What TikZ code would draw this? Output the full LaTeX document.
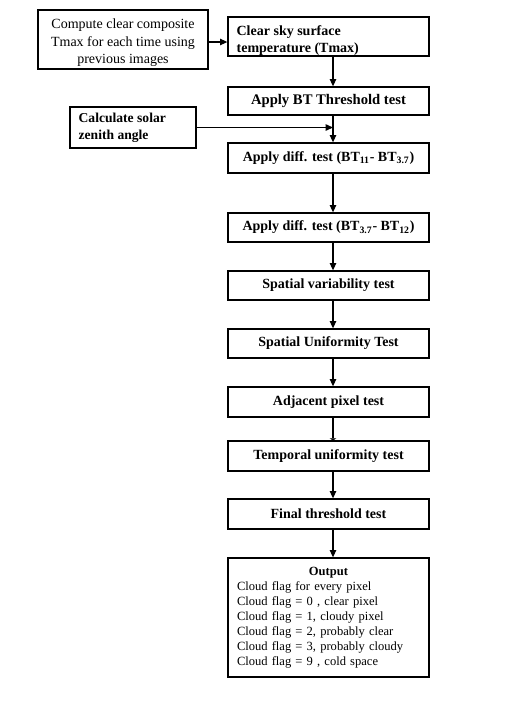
\documentclass[tikz,border=0pt]{standalone}
\usepackage{fontspec}
\setmainfont{Liberation Serif}
\usetikzlibrary{arrows.meta,calc}
\begin{document}
\begin{tikzpicture}[x=0.75pt,y=-0.75pt,
  reg/.style={font=\fontsize{10.5}{13}\selectfont},
  box/.style={draw,line width=0.95pt,inner sep=0pt,minimum width=150.75pt,
    font=\fontsize{10.5}{12.5}\selectfont\bfseries},
  intext/.style={inner sep=0pt,align=left},
  arr/.style={-{Triangle[length=5.5pt,width=4.8pt]},line width=0.95pt},
  arrflat/.style={-{Triangle[length=1.5pt,width=5pt]},line width=0.95pt}]
\useasboundingbox (0,0) rectangle (515,708);
% nodes
\node[draw,line width=0.95pt,inner sep=0pt,minimum width=127.5pt,minimum height=44.25pt,
  label={[intext,align=center,reg,yshift=-2.6pt]center:{Compute clear composite\\Tmax for each time using\\previous images}}]
  (box1) at (123,39.5) {};
\node[box,minimum height=29.25pt,
  label={[intext,font=\fontsize{10.5}{12.5}\selectfont\bfseries,anchor=west,xshift=6.75pt,yshift=-2.8pt]west:{Clear sky surface\\temperature (Tmax)}}]
  (clear) at (328.5,36.5) {};
\node[box,minimum height=21pt,font=\fontsize{11}{13}\selectfont\bfseries] (bt) at (328.5,101) {Apply BT Threshold test};
\node[box,minimum width=94.5pt,minimum height=30.75pt,
  label={[intext,font=\fontsize{10.2}{12.5}\selectfont\bfseries,anchor=west,xshift=6.75pt]west:{Calculate solar\\zenith angle}}]
  (solar) at (133,127.5) {};
\node[box,minimum height=22.5pt] (diff1) at (328.5,158)
  {Apply diff. test (BT\textsubscript{11}- BT\textsubscript{3.7})};
\node[box,minimum height=21.75pt] (diff2) at (328.5,227.5)
  {Apply diff. test (BT\textsubscript{3.7}- BT\textsubscript{12})};
\node[box,minimum height=21.75pt] (spvar) at (328.5,285.5) {Spatial variability test};
\node[box,minimum height=21.75pt] (spuni) at (328.5,343.5) {Spatial Uniformity Test};
\node[box,minimum height=22.5pt] (adj) at (328.5,402) {Adjacent pixel test};
\node[box,minimum height=22.5pt] (temp) at (328.5,456) {Temporal uniformity test};
\node[box,minimum height=22.5pt] (final) at (328.5,514) {Final threshold test};
\node[box,minimum height=89.25pt,text width=137.25pt,inner xsep=6.75pt,
  font=\fontsize{9.4}{11.25}\selectfont] (out) at (328.5,617.5)
  {\centering\textbf{Output}\par\raggedright
   Cloud flag for every pixel\\
   Cloud flag = 0 , clear pixel\\
   Cloud flag = 1, cloudy pixel\\
   Cloud flag = 2, probably clear\\
   Cloud flag = 3, probably cloudy\\
   Cloud flag = 9 , cold space\par};
% connectors
\coordinate (ay) at (0,42);
\draw[arr] (box1.east |- ay) -- (clear.west |- ay);
\draw[arr] ([xshift=3.375pt]clear.south) -- ([xshift=3.375pt]bt.north);
\coordinate (btx) at ([xshift=3.375pt]bt.south);
\draw[arr] (btx) -- ([xshift=3.375pt]diff1.north);
\draw[arr] (solar.east) -- (solar.east -| btx);
\draw[arr] ([xshift=3.375pt]diff1.south) -- ([xshift=3.375pt]diff2.north);
\draw[arr] ([xshift=3.375pt]diff2.south) -- ([xshift=3.375pt]spvar.north);
\draw[arr] ([xshift=3.375pt]spvar.south) -- ([xshift=3.375pt]spuni.north);
\draw[arr] ([xshift=3.375pt]spuni.south) -- ([xshift=3.375pt]adj.north);
\draw[arrflat] ([xshift=3.375pt]adj.south) -- ([xshift=3.375pt]temp.north);
\draw[arr] ([xshift=3.375pt]temp.south) -- ([xshift=3.375pt]final.north);
\draw[arr] ([xshift=3.375pt]final.south) -- ([xshift=3.375pt]out.north);
\end{tikzpicture}
\end{document}
